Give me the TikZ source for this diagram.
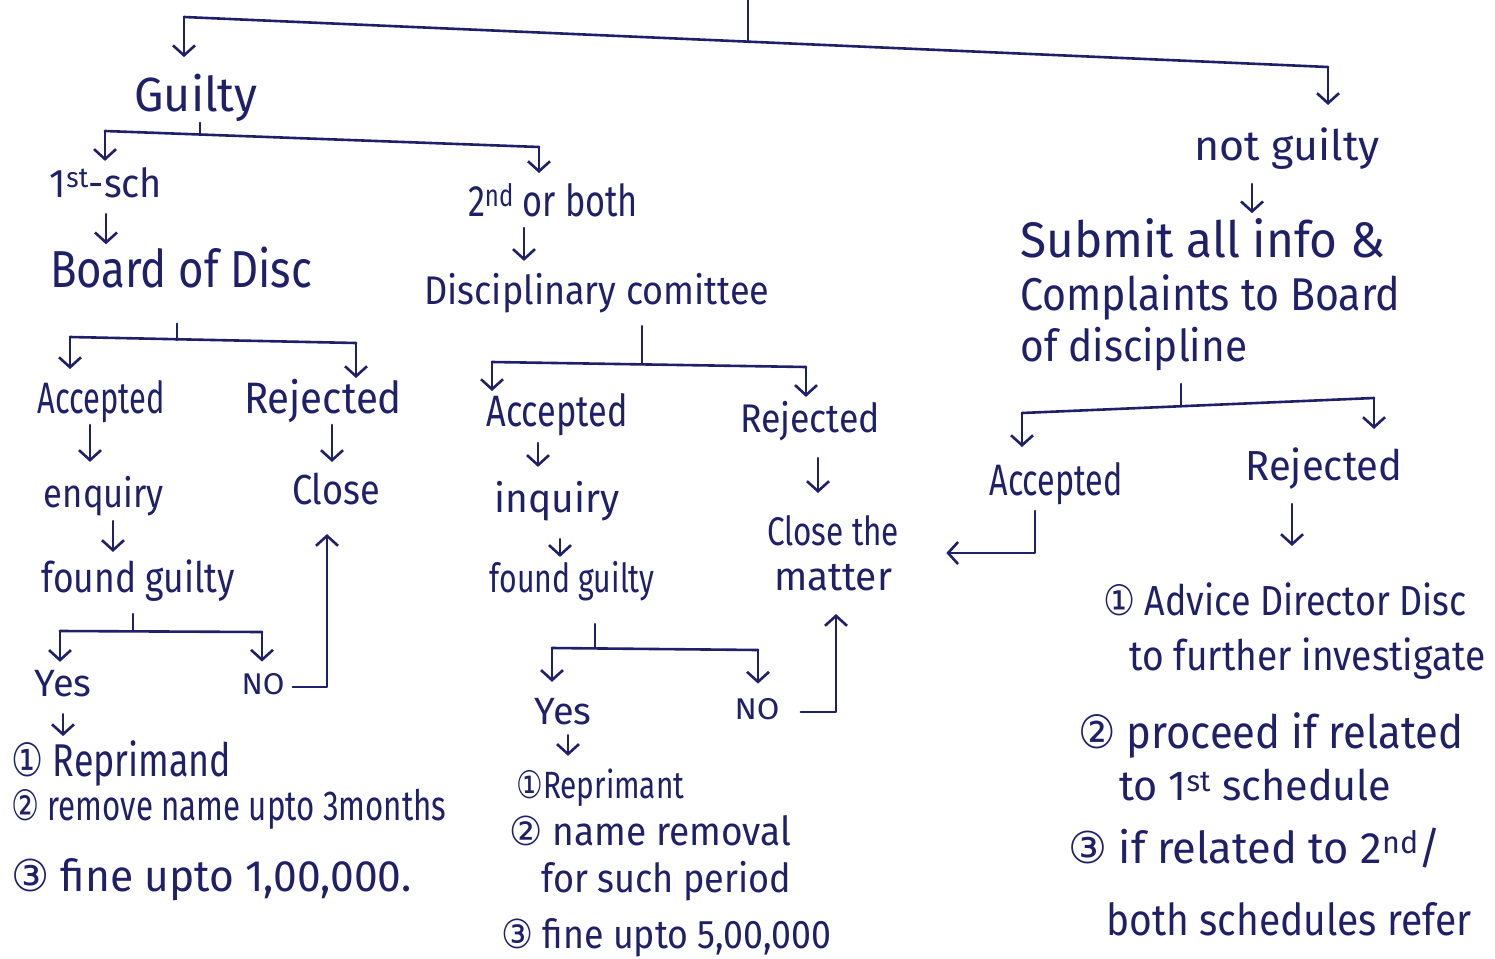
\documentclass[tikz,border=0pt]{standalone}
\usepackage{fontspec}
\setmainfont{Fira Sans}
\newfontfamily\numfont{DejaVu Sans}
\usetikzlibrary{arrows.meta}
\definecolor{ink}{RGB}{32,32,105}
% text kept at its natural height, stretched or squeezed to a given width (pt)
\newcommand\hw[2]{\resizebox{#1pt}{\height}{#2}}
\newcommand\cn[1]{{\numfont #1}}

\begin{document}
\begin{tikzpicture}[x=1pt, y=-1pt, color=ink, line width=2.6pt,
  line cap=round, line join=round,
  lbl/.style={inner sep=0pt, text=ink},
  % font size with a fixed text box, so every label has the same geometry
  fs/.code={\pgfmathsetmacro\fsH{0.72*#1}\pgfmathsetmacro\fsD{0.22*#1}%
    \tikzset{font=\fontsize{#1}{#1}\selectfont, text height=\fsH pt, text depth=\fsD pt}},
  arr/.style={-{Straight Barb[length=10pt,width=22pt]}}]

\fill[white] (0,0) rectangle (1495,958);
\useasboundingbox (0,0) rectangle (1495,958);

% ---------- labels ----------
\node[lbl, fs=48] (guilty) at (196,99)  {\hw{123}{Guilty}};
\node[lbl, fs=42] (ng)     at (1287,150) {\hw{185}{not guilty}};
\node[lbl, fs=40] (sch1)   at (106,187) {\hw{112}{1\textsuperscript{st}-sch}};
\node[lbl, fs=44] (sch2)   at (553,205) {\hw{170}{2\textsuperscript{nd} or both}};
\node[lbl, fs=52] (bod)    at (181,274) {\hw{262}{Board of Disc}};
\node[lbl, fs=40] (dc)     at (597,294) {\hw{345}{Disciplinary comittee}};
\node[lbl, fs=50, anchor=west] (sub1) at (1019,245) {\hw{365}{Submit all info \&}};
\node[lbl, fs=46, anchor=west] (sub2) at (1019,299) {\hw{380}{Complaints to Board}};
\node[lbl, fs=44, anchor=west] (sub3) at (1019,350) {\hw{227}{of discipline}};

% Board of Discipline branch
\node[lbl, fs=44] (acc1)   at (101,402) {\hw{127}{Accepted}};
\node[lbl, fs=44] (rej1)   at (323,402) {\hw{158}{Rejected}};
\node[lbl, fs=40] (enq)    at (104,497) {\hw{120}{enquiry}};
\node[lbl, fs=42] (close1) at (336,494) {\hw{88}{Close}};
\node[lbl, fs=42] (fg1)    at (138,582) {\hw{193}{found guilty}};
\node[lbl, fs=38] (yes1)   at (63,687)  {\hw{57}{Yes}};
\node[lbl, fs=30] (no1)    at (263,687) {\hw{43}{NO}};
\node[lbl, fs=46, anchor=west] (pen1a) at (10,765) {\hw{220}{\cn{①} Reprimand}};
\node[lbl, fs=42, anchor=west] (pen1b) at (10,810) {\hw{435}{\cn{②} remove name upto 3months}};
\node[lbl, fs=44, anchor=west] (pen1c) at (10,880) {\hw{400}{\cn{③} fine upto 1,00,000.}};

% Disciplinary committee branch
\node[lbl, fs=44] (acc2)   at (557,415) {\hw{141}{Accepted}};
\node[lbl, fs=40] (rej2)   at (810,422) {\hw{140}{Rejected}};
\node[lbl, fs=40] (inq)    at (557,502) {\hw{125}{inquiry}};
\node[lbl, fs=40] (fg2)    at (572,582) {\hw{165}{found guilty}};
\node[lbl, align=center, font=\fontsize{40}{45}\selectfont] (close2) at (833,553)
  {\hw{132}{Close the}\\\hw{118}{matter}};
\node[lbl, fs=38] (yes2)   at (563,715) {\hw{57}{Yes}};
\node[lbl, fs=30] (no2)    at (757,712) {\hw{45}{NO}};
\node[lbl, fs=38, anchor=west] (pen2a) at (515,789) {\hw{168}{\cn{①}Reprimant}};
\node[lbl, fs=40, anchor=west] (pen2b) at (508,835) {\hw{282}{\cn{②} name removal}};
\node[lbl, fs=40, anchor=west] (pen2c) at (540,882) {\hw{250}{for such period}};
\node[lbl, fs=40, anchor=west] (pen2d) at (500,938) {\hw{330}{\cn{③} fine upto 5,00,000}};

% not guilty branch
\node[lbl, fs=44] (acc3)   at (1056,484) {\hw{133}{Accepted}};
\node[lbl, fs=42] (rej3)   at (1324,470) {\hw{157}{Rejected}};
\node[lbl, fs=42, anchor=west] (adv1) at (1102,605) {\hw{363}{\cn{①} Advice Director Disc}};
\node[lbl, fs=42, anchor=west] (adv2) at (1128,660) {\hw{356}{to further investigate}};
\node[lbl, fs=46, anchor=west] (adv3) at (1077,737) {\hw{385}{\cn{②} proceed if related}};
\node[lbl, fs=42, anchor=west] (adv4) at (1118,790) {\hw{272}{to 1\textsuperscript{st} schedule}};
\node[lbl, fs=44, anchor=west] (adv5) at (1067,852) {\hw{373}{\cn{③} if related to 2\textsuperscript{nd}/}};
\node[lbl, fs=44, anchor=west] (adv6) at (1105,924) {\hw{365}{both schedules refer}};

% ---------- top split ----------
\coordinate (top)   at (748,0);
\coordinate (rootJ) at (748,42);
\coordinate (b0L)   at (184,17);
\coordinate (b0R)   at (1328,67);
\draw (top) -- (rootJ);
\draw (b0L) -- (b0R);
\draw[arr, shorten >=18pt] (b0L) -- (b0L |- guilty.north);
\draw[arr, shorten >=24pt] (b0R) -- (b0R |- ng.north);

% ---------- guilty split ----------
\coordinate (gJ)  at (200,135);
\coordinate (b1L) at (105,131);
\coordinate (b1R) at (539,147);
\draw (guilty.south -| gJ) -- (gJ);
\draw (b1L) -- (b1R);
\draw[arr, shorten >=6pt]  (b1L) -- (b1L |- sch1.north);
\draw[arr, shorten >=10pt] (b1R) -- (b1R |- sch2.north);
\draw[arr, shorten <=7pt, shorten >=4pt] (sch1.south) -- (sch1.south |- bod.north);
\draw[arr, shorten <=1pt, shorten >=13pt] ([xshift=-29pt]sch2.south) -- ([xshift=-29pt]sch2.south |- dc.north);

% ---------- Board of Discipline ----------
\coordinate (bodJ) at (177,340);
\coordinate (b2L)  at (70,337);
\coordinate (b2R)  at (356,343);
\draw[shorten <=24pt] (bod.south -| bodJ) -- (bodJ);
\draw (b2L) -- (b2R);
\draw[arr, shorten >=11pt] (b2L) -- (b2L |- acc1.north);
\draw[arr, shorten >=2pt]  (b2R) -- (b2R |- rej1.north);
\draw[arr, shorten <=1pt, shorten >=15pt] ([xshift=-11pt]acc1.south) -- ([xshift=-11pt]acc1.south |- enq.north);
\draw[arr, shorten <=1pt, shorten >=11pt] ([xshift=9pt]rej1.south) -- ([xshift=9pt]rej1.south |- close1.north);
\draw[arr, shorten <=4pt, shorten >=9pt] ([xshift=9pt]enq.south) -- ([xshift=9pt]enq.south |- fg1.north);
\coordinate (fg1J) at (133,631);
\coordinate (b3L)  at (60,631);
\coordinate (b3R)  at (262,632);
\draw[shorten <=11pt] (fg1.south -| fg1J) -- (fg1J);
\draw (b3L) -- (b3R);
\draw[arr, shorten >=6pt]  (b3L) -- (b3L |- yes1.north);
\draw[arr, shorten >=10pt] (b3R) -- (b3R |- no1.north);
\draw[arr, shorten <=7pt, shorten >=19pt] (no1.east) -| ([xshift=-9pt]close1.south);
\draw[arr, shorten <=8pt, shorten >=6pt] (yes1.south) -- (yes1.south |- pen1a.north);

% ---------- Disciplinary committee ----------
\coordinate (dcJ) at (642,364);
\coordinate (b4L) at (492,362);
\coordinate (b4R) at (806,367);
\draw[shorten <=12pt] (dc.south -| dcJ) -- (dcJ);
\draw (b4L) -- (b4R);
\draw[arr, shorten >=2pt] (b4L) -- (b4L |- acc2.north);
\draw[arr, shorten >=5pt] (b4R) -- (b4R |- rej2.north);
\draw[arr, shorten <=6pt, shorten >=15pt] ([xshift=-19pt]acc2.south) -- ([xshift=-19pt]acc2.south |- inq.north);
\draw[arr, shorten <=17pt, shorten >=5pt] ([xshift=3pt]inq.south) -- ([xshift=3pt]inq.south |- fg2.north);
\draw[arr, shorten <=16pt, shorten >=21pt] ([xshift=8pt]rej2.south) -- ([xshift=8pt]rej2.south |- close2.north);
\coordinate (fg2J) at (595,648);
\coordinate (b5L)  at (552,648);
\coordinate (b5R)  at (758,650);
\draw[shorten <=22pt] (fg2.south -| fg2J) -- (fg2J);
\draw (b5L) -- (b5R);
\draw[arr, shorten >=14pt] (b5L) -- (b5L |- yes2.north);
\draw[arr, shorten >=13pt] (b5R) -- (b5R |- no2.north);
\draw[arr, shorten <=20pt, shorten >=22pt] (no2.east) -| ([xshift=3pt]close2.south);
\draw[arr, shorten <=1pt, shorten >=14pt] ([xshift=5pt]yes2.south) -- ([xshift=5pt]yes2.south |- pen2a.north);

% ---------- not guilty ----------
\draw[arr, shorten <=13pt, shorten >=7pt] ([xshift=-35pt]ng.south) -- ([xshift=-35pt]ng.south |- sub1.north);
\coordinate (sbJ) at (1181,406);
\coordinate (b6L) at (1022,413);
\coordinate (b6R) at (1374,398);
\draw[shorten <=12pt] (sub3.south -| sbJ) -- (sbJ);
\draw (b6L) -- (b6R);
\draw[arr, shorten >=15pt] (b6L) -- (b6L |- acc3.north);
\draw[arr, shorten >=20pt] (b6R) -- (b6R |- rej3.north);
\draw[arr, shorten <=5pt, shorten >=46pt] ([xshift=-21pt]acc3.south) |- (close2.east);
\draw[arr, shorten <=13pt, shorten >=38pt] ([xshift=-32pt]rej3.south) -- ([xshift=-32pt]rej3.south |- adv1.north);

\end{tikzpicture}
\end{document}
